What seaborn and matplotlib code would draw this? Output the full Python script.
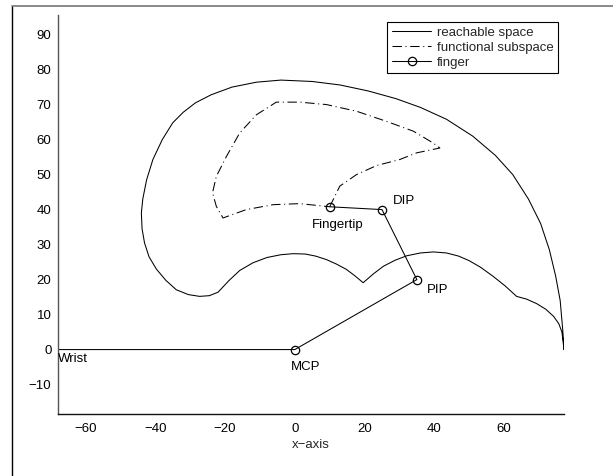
import matplotlib
matplotlib.use("Agg")
import matplotlib.pyplot as plt
from matplotlib.lines import Line2D
import pandas as pd
import seaborn as sns

# ---- data ----
reach_x = [77.2, 76.8, 76.1, 74.8, 73.0, 70.5, 67.0, 62.5, 57.5, 51.0, 43.5, 36.0, 29.0,
           21.0, 13.0, 5.0, -4.0, -11.0, -18.0, -24.0, -28.5, -32.0, -35.0, -38.0, -40.7,
           -42.5, -43.6, -44.0, -43.8, -43.1, -41.8, -39.7, -37.0, -34.0, -30.5, -27.3,
           -24.5, -22.0, -19.0, -15.8, -12.0, -8.0, -4.0, -0.5, 3.0, 6.0, 9.1, 12.0, 14.8,
           17.2, 19.6, 22.5, 25.4, 28.7, 32.1, 36.0, 39.7, 43.5, 47.0, 50.0, 53.3, 56.9,
           60.3, 63.6, 66.5, 69.4, 72.0, 74.2, 75.7, 76.6, 77.2]
reach_y = [0.0, 6.0, 14.0, 21.0, 28.5, 36.0, 43.0, 50.0, 55.5, 61.0, 65.8, 69.2, 71.7,
           73.9, 75.6, 76.6, 77.0, 76.4, 75.0, 72.8, 70.5, 67.8, 64.8, 60.0, 54.3,
           48.5, 43.0, 39.0, 34.5, 30.5, 26.5, 23.0, 19.8, 17.1, 15.7, 15.2,
           15.4, 16.4, 19.6, 22.6, 24.8, 26.3, 27.1, 27.4, 27.3, 26.7, 25.7, 24.4, 22.9,
           21.1, 19.1, 21.6, 23.8, 25.5, 26.8, 27.6, 27.9, 27.6, 26.7, 25.4, 23.5, 20.9,
           18.2, 15.2, 14.4, 13.1, 11.5, 9.5, 7.4, 5.0, 0.0]

func_x = [10.0, 12.9, 17.7, 23.5, 30.1, 34.9, 41.6, 39.7, 34.0, 26.3, 17.7, 9.1, 1.4,
          -5.3, -11.0, -15.8, -19.6, -22.5, -23.6, -22.5, -20.6, -13.9, -6.2, 1.4, 7.2, 10.0]
func_y = [40.8, 46.7, 50.0, 52.6, 54.3, 56.2, 57.6, 59.0, 62.4, 65.2, 68.1, 70.0, 70.7,
          70.7, 67.1, 61.9, 55.2, 49.5, 44.8, 40.9, 37.6, 40.0, 41.4, 41.7, 41.1, 40.8]

finger_x = [-77.0, 0.0, 35.0, 25.0, 10.0]
finger_y = [0.0, 0.0, 20.0, 40.0, 40.8]

joint_names = ["Wrist", "MCP", "PIP", "DIP", "Fingertip"]
joint_label_x = [-68.0, -1.0, 38.0, 28.0, 5.0]
joint_label_y = [-2.7, -4.9, 17.0, 42.5, 35.5]

x_ticks = [-60, -40, -20, 0, 20, 40, 60]
y_ticks = [-10, 0, 10, 20, 30, 40, 50, 60, 70, 80, 90]
series_labels = ["reachable space", "functional subspace", "finger"]

# ---- style ----
sns.set_style("white")
plt.rcParams["font.family"] = ["Liberation Sans", "DejaVu Sans"]
plt.rcParams["axes.unicode_minus"] = True
FS = 9.5

fig = plt.figure(figsize=(6.13, 4.76), dpi=100)
ax = fig.add_axes([0.0941, 0.1296, 0.826, 0.8389])

reach_df = pd.DataFrame({"x": reach_x, "y": reach_y})
func_df = pd.DataFrame({"x": func_x, "y": func_y})
finger_df = pd.DataFrame({"x": finger_x, "y": finger_y})

sns.lineplot(data=reach_df, x="x", y="y", sort=False, estimator=None, ax=ax,
             color="black", linewidth=0.75, label=series_labels[0])
sns.lineplot(data=func_df, x="x", y="y", sort=False, estimator=None, ax=ax,
             color="black", linewidth=0.75, linestyle=(0, (9, 3.5, 1, 3.5)),
             label=series_labels[1])
sns.lineplot(data=finger_df, x="x", y="y", sort=False, estimator=None, ax=ax,
             color="black", linewidth=0.75, marker="o", markersize=6,
             markerfacecolor="none", markeredgecolor="black", markeredgewidth=0.9,
             label=series_labels[2])

for name, tx, ty in zip(joint_names, joint_label_x, joint_label_y):
    ax.text(tx, ty, name, ha="left", va="center", fontsize=FS, color="black")

ax.set_xlim(-68.0, 77.2)
ax.set_ylim(-18.5, 95.6)
ax.set_xticks(x_ticks)
ax.set_yticks(y_ticks)
ax.set_xlabel("x\u2212axis", fontsize=FS, labelpad=3)
ax.set_ylabel("")

for side in ["top", "right"]:
    ax.spines[side].set_visible(False)
ax.spines["left"].set_color("#555555")
ax.spines["left"].set_linewidth(1.0)
ax.spines["bottom"].set_color("#111111")
ax.spines["bottom"].set_linewidth(1.0)

ax.tick_params(axis="x", direction="in", length=3.6, width=0.8, pad=6.2,
               labelsize=FS, colors="black")
ax.tick_params(axis="y", direction="out", length=3, width=0.8, pad=1.5,
               labelsize=FS, colors="black")
ax.tick_params(axis="y", color="#555555")

leg = ax.legend(loc="upper right", bbox_to_anchor=(0.988, 0.9825), borderaxespad=0,
                frameon=True, fancybox=False, framealpha=1, edgecolor="black",
                fontsize=FS, handlelength=3.0, handletextpad=0.4,
                labelspacing=0.2, borderpad=0.35)
leg.get_frame().set_linewidth(0.8)

# figure border (MATLAB-style window frame)
fig.add_artist(Line2D([12 / 613, 12 / 613], [0, 1 - 6 / 476], transform=fig.transFigure,
                      color="black", linewidth=1.0))
fig.add_artist(Line2D([12 / 613, 1], [1 - 6 / 476, 1 - 6 / 476], transform=fig.transFigure,
                      color="#777777", linewidth=1.2))

fig.savefig("out.png", dpi=100)
